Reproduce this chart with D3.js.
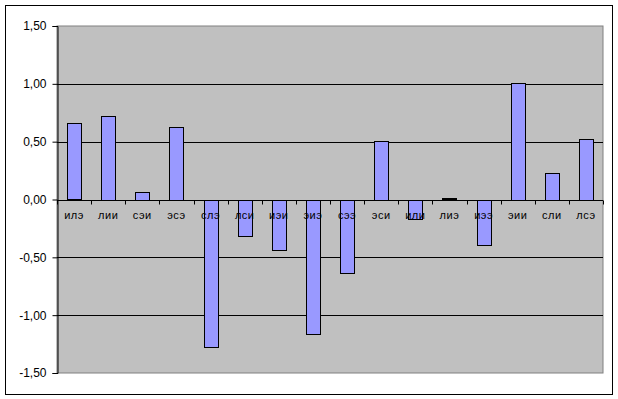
<!DOCTYPE html>
<html>
<head>
<meta charset="utf-8">
<script src="https://cdn.jsdelivr.net/npm/d3@7"></script>
<style>
  body { margin: 0; background: #fff; }
  svg { display: block; font-family: "Liberation Sans", Arial, sans-serif; }
</style>
</head>
<body>
<svg id="chart" width="618" height="399"></svg>
<script>
const categories = ['илэ', 'лии', 'сэи', 'эсэ', 'слэ', 'лси', 'иэи', 'эиэ', 'сээ', 'эси', 'или', 'лиэ', 'иээ', 'эии', 'сли', 'лсэ'];
const values = [0.66, 0.725, 0.065, 0.63, -1.27, -0.31, -0.435, -1.16, -0.63, 0.51, -0.16, 0.01, -0.39, 1.01, 0.23, 0.525];
const yTicks = [-1.5, -1.0, -0.5, 0, 0.5, 1.0, 1.5];

const svg = d3.select('#chart');
const plot = { left: 57, top: 26, right: 603, bottom: 373 };

// outer chart frame
svg.append('rect')
  .attr('x', 5.5).attr('y', 5.5)
  .attr('width', 607).attr('height', 389)
  .attr('fill', '#fff').attr('stroke', '#000');

const x = d3.scaleBand()
  .domain(categories)
  .range([plot.left, plot.right])
  .paddingInner(0.59).paddingOuter(0.295);

const y = d3.scaleLinear().domain([-1.5, 1.5]).range([plot.bottom, plot.top]);

svg.append('rect')
  .attr('x', plot.left).attr('y', plot.top)
  .attr('width', plot.right - plot.left).attr('height', plot.bottom - plot.top)
  .attr('fill', '#c0c0c0').attr('stroke', '#808080');

// gridlines
svg.append('g')
  .selectAll('line')
  .data(yTicks.filter(t => t !== 1.5 && t !== -1.5 && t !== 0))
  .join('line')
  .attr('x1', plot.left).attr('x2', plot.right)
  .attr('y1', d => Math.round(y(d)) + 0.5).attr('y2', d => Math.round(y(d)) + 0.5)
  .attr('stroke', '#000');

// bars
svg.append('g')
  .selectAll('rect')
  .data(values)
  .join('rect')
  .attr('x', (d, i) => Math.round(x(categories[i])) + 0.5)
  .attr('width', Math.round(x.bandwidth()))
  .attr('y', d => Math.round(y(Math.max(0, d))) + 0.5)
  .attr('height', d => Math.max(1, Math.round(Math.abs(y(d) - y(0)))))
  .attr('fill', '#9999ff').attr('stroke', '#000');

// y axis
const yAxis = d3.axisLeft(y)
  .tickValues(yTicks)
  .tickSize(5)
  .tickPadding(6)
  .tickFormat(d => d3.format('.2f')(d).replace('.', ',').replace('−', '-'));

svg.append('g')
  .attr('transform', `translate(${plot.left + 0.5},0)`)
  .call(yAxis)
  .call(g => g.select('.domain').attr('stroke', '#000'))
  .call(g => g.selectAll('.tick line').attr('stroke', '#000'))
  .call(g => g.selectAll('text').attr('font-size', 12).attr('fill', '#000').attr('font-family', '"Liberation Sans", Arial, sans-serif'));

// x axis at zero
const y0 = Math.round(y(0)) + 0.5;
svg.append('line')
  .attr('x1', plot.left).attr('x2', plot.right)
  .attr('y1', y0).attr('y2', y0)
  .attr('stroke', '#000');

const step = x.step();
svg.append('g')
  .selectAll('line')
  .data(d3.range(categories.length + 1))
  .join('line')
  .attr('x1', i => Math.round(plot.left + i * step) + 0.5)
  .attr('x2', i => Math.round(plot.left + i * step) + 0.5)
  .attr('y1', y0).attr('y2', y0 + 4)
  .attr('stroke', '#000');

svg.append('g')
  .selectAll('text')
  .data(categories)
  .join('text')
  .attr('x', d => x(d) + x.bandwidth() / 2)
  .attr('y', y0 + 18)
  .attr('text-anchor', 'middle')
  .attr('font-size', 11)
  .attr('letter-spacing', 0.5)
  .text(d => d);
</script>
</body>
</html>
